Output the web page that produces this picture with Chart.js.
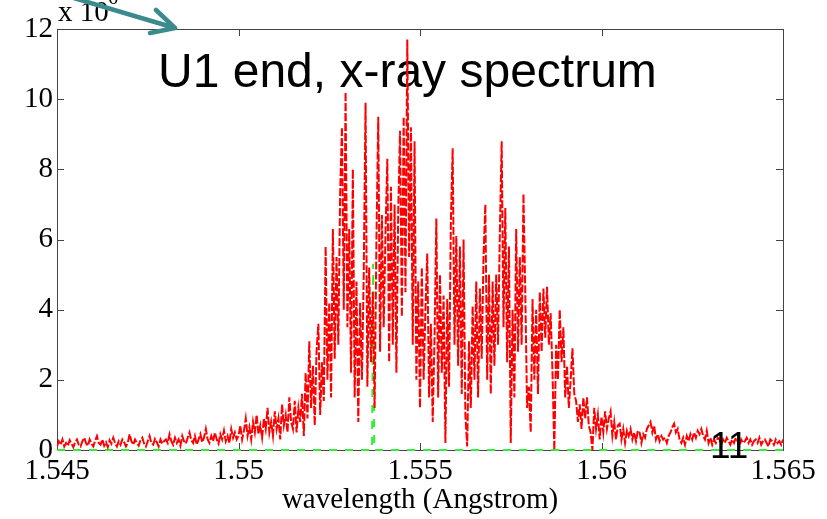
<!DOCTYPE html>
<html>
<head>
<meta charset="utf-8">
<script src="https://cdn.jsdelivr.net/npm/chart.js@4"></script>
<style>
  html, body { margin: 0; padding: 0; background: #fff; }
  #wrap { width: 827px; height: 519px; }
</style>
</head>
<body>
<div id="wrap"><canvas id="spectre" width="827" height="519"></canvas></div>
<script>
// donnees (intensite en unites de 10^6)
const lambdaStart = 1.545;
const lambdaStep = 0.00005;
const intensite = [
  0.1,0.25,0.15,0.3,0.1,0.2,0.12,0.28,0.18,0.08, 0.22,0.3,0.15,0.1,0.25,0.35,0.2,0.12,0.3,0.18,
  0.1,0.26,0.4,0.2,0.15,0.3,0.12,0.22,0.08,0.28, 0.18,0.35,0.2,0.1,0.25,0.15,0.3,0.22,0.1,0.2,
  0.45,0.25,0.15,0.3,0.2,0.12,0.28,0.35,0.18,0.1, 0.25,0.4,0.2,0.15,0.32,0.22,0.1,0.3,0.18,0.25,
  0.3,0.2,0.45,0.25,0.15,0.35,0.2,0.3,0.12,0.4, 0.25,0.18,0.35,0.5,0.28,0.2,0.4,0.15,0.3,0.45,
  0.22,0.35,0.6,0.3,0.2,0.4,0.25,0.5,0.3,0.18, 0.45,0.3,0.55,0.25,0.4,0.2,0.6,0.35,0.5,0.3,
  0.4,0.7,0.3,0.55,0.9,0.4,0.65,0.3,0.8,0.5, 1.0,0.45,0.7,0.35,0.9,0.6,1.2,0.5,0.8,0.4,
  1.1,0.6,0.9,0.3,1.3,0.7,1.0,0.5,1.5,0.8,
  // zone des pics
  0.6,1.4,0.5,1.2,0.8,1.6,0.4,2.2,0.9,3.1, 1.2,2.4,0.7,2.8,3.6,1.0,2.5,1.4,5.8,2.0,
  4.2,1.5,6.3,2.6,5.5,3.0,7.3,9.2,4.0,10.2, 3.5,6.3,2.2,8.0,1.5,4.8,0.8,4.2,2.0,5.0,
  9.9,1.8,5.2,2.5,4.5,1.2,6.0,9.5,2.8,6.7, 3.5,6.2,8.3,2.5,7.5,3.0,7.0,2.2,6.8,9.1,
  3.8,9.5,4.5,11.7,5.5,9.2,3.0,8.8,2.0,4.8, 1.2,5.2,2.0,4.0,5.6,1.5,3.6,0.8,3.2,6.6,
  1.5,5.0,2.2,4.4,0.2,4.3,1.8,6.5,8.6,3.0, 6.1,2.4,5.8,1.6,6.0,1.0,0.1,3.1,1.2,4.1,
  2.0,4.8,1.5,4.6,2.6,5.5,7.0,2.0,5.0,1.6, 4.8,2.4,5.0,3.0,6.2,8.8,3.5,6.9,2.5,5.8,
  0.2,4.0,1.5,6.3,2.8,5.5,3.0,7.3,4.5,1.2, 1.8,0.5,4.3,2.0,4.0,1.6,4.5,2.8,4.6,3.2,
  4.65,3.0,3.9,2.2,0.0,3.0,2.0,4.0,2.5,3.5, 1.5,2.4,1.2,2.0,2.9,1.6,1.4,0.8,1.3,0.6,
  1.5,0.9,1.5,0.7,0.5,0.0,1.2,0.6,1.0,0.3,
  // queue
  0.95,0.5,1.1,0.6,0.9,1.1,0.4,0.8,0.3,0.7, 0.75,0.3,0.6,0.2,0.55,0.4,0.6,0.3,0.5,0.25,
  0.55,0.5,0.2,0.45,0.35,0.6,0.7,0.8,0.5,0.7, 0.3,0.45,0.25,0.4,0.3,0.35,0.2,0.4,0.5,0.65,
  0.75,0.5,0.6,0.3,0.2,0.35,0.15,0.4,0.25,0.45, 0.3,0.5,0.35,0.55,0.45,0.6,0.4,0.3,0.55,0.2,
  0.35,0.15,0.3,0.2,0.35,0.3,0.15,0.3,0.2,0.35, 0.25,0.15,0.3,0.2,0.35,0.25,0.1,0.3,0.2,0.25,
  0.35,0.2,0.3,0.15,0.25,0.3,0.2,0.35,0.15,0.25, 0.3,0.2,0.1,0.3,0.25,0.15,0.3,0.2,0.25,0.15,
  0.3
];

// courbe verte (pointillés)
const vertX = [1.545, 1.55368, 1.55371, 1.55374, 1.565];
const vertY = [0, 0, 5.3, 0, 0];

const xTicks = [1.545, 1.55, 1.555, 1.56, 1.565];
const yTicks = [0, 2, 4, 6, 8, 10, 12];

const titre = 'U1 end, x-ray spectrum';
const axeX = 'wavelength (Angstrom)';

const pointsRouges = intensite.map((v, i) => ({ x: lambdaStart + i * lambdaStep, y: v }));
const pointsVerts = vertX.map((x, i) => ({ x: x, y: vertY[i] }));

const serif = "'Liberation Serif', 'Times New Roman', serif";
const sans = "'Liberation Sans', Arial, sans-serif";

// cadre + petites graduations vers l'interieur (style matlab)
const cadre = {
  id: 'cadre',
  beforeDatasetsDraw(chart) {
    const { ctx, chartArea: a, scales } = chart;
    ctx.save();
    // titre sous les courbes
    ctx.fillStyle = '#000';
    ctx.font = '48px ' + sans;
    ctx.textBaseline = 'alphabetic';
    ctx.fillText(titre, 158, 87);

    ctx.strokeStyle = '#444';
    ctx.lineWidth = 1;
    ctx.strokeRect(a.left + 0.5, a.top + 0.5, a.right - a.left, a.bottom - a.top);
    ctx.beginPath();
    xTicks.forEach(v => {
      const px = Math.round(scales.x.getPixelForValue(v)) + 0.5;
      ctx.moveTo(px, a.bottom); ctx.lineTo(px, a.bottom - 7);
      ctx.moveTo(px, a.top); ctx.lineTo(px, a.top + 7);
    });
    yTicks.forEach(v => {
      const py = Math.round(scales.y.getPixelForValue(v)) + 0.5;
      ctx.moveTo(a.left, py); ctx.lineTo(a.left + 7, py);
      ctx.moveTo(a.right, py); ctx.lineTo(a.right - 7, py);
    });
    ctx.stroke();
    ctx.restore();
  },
  afterDraw(chart) {
    const ctx = chart.ctx;
    ctx.save();
    ctx.fillStyle = '#000';
    ctx.font = '29px ' + serif;
    ctx.fillText('x 10', 58, 21);
    ctx.font = '20px ' + serif;
    ctx.fillText('6', 108, 4);

    ctx.font = '37px ' + sans;
    ctx.fillText('11', 710, 458);

    // fleche
    ctx.strokeStyle = '#3a8a8e';
    ctx.lineWidth = 4.5;
    ctx.lineCap = 'round';
    ctx.lineJoin = 'round';
    ctx.beginPath();
    ctx.moveTo(74, -2);
    ctx.lineTo(175, 28);
    ctx.moveTo(156, 10);
    ctx.lineTo(175, 28);
    ctx.lineTo(150, 33);
    ctx.stroke();
    ctx.restore();
  }
};

new Chart(document.getElementById('spectre'), {
  type: 'line',
  data: {
    datasets: [
      {
        data: pointsRouges,
        borderColor: '#ff0000',
        borderWidth: 2,
        borderDash: [8, 2],
        pointRadius: 0,
        tension: 0,
      },
      {
        data: pointsVerts,
        borderColor: '#33ee33',
        borderWidth: 2,
        borderDash: [8, 8],
        pointRadius: 0,
        tension: 0,
        clip: 4,
      }
    ]
  },
  options: {
    responsive: false,
    animation: false,
    layout: { padding: { left: 0, right: 44, top: 29, bottom: 0 } },
    plugins: {
      legend: { display: false },
      tooltip: { enabled: false },
    },
    scales: {
      x: {
        type: 'linear',
        min: 1.545,
        max: 1.565,
        afterBuildTicks: s => { s.ticks = xTicks.map(v => ({ value: v })); },
        afterFit: s => { s.height = 69; },
        grid: { display: false, drawTicks: false },
        border: { display: false },
        ticks: {
          color: '#000',
          padding: 4,
          maxRotation: 0,
          font: { family: serif, size: 29 },
          callback: v => String(+v.toFixed(3)),
        },
        title: {
          display: true,
          text: axeX,
          color: '#000',
          font: { family: serif, size: 29 },
          padding: { top: 0, bottom: 1 },
        }
      },
      y: {
        min: 0,
        max: 12,
        afterBuildTicks: s => { s.ticks = yTicks.map(v => ({ value: v })); },
        afterFit: s => { s.width = 57; },
        grid: { display: false, drawTicks: false },
        border: { display: false },
        ticks: {
          color: '#000',
          padding: 4,
          font: { family: serif, size: 29 },
        }
      }
    }
  },
  plugins: [cadre]
});
</script>
</body>
</html>
